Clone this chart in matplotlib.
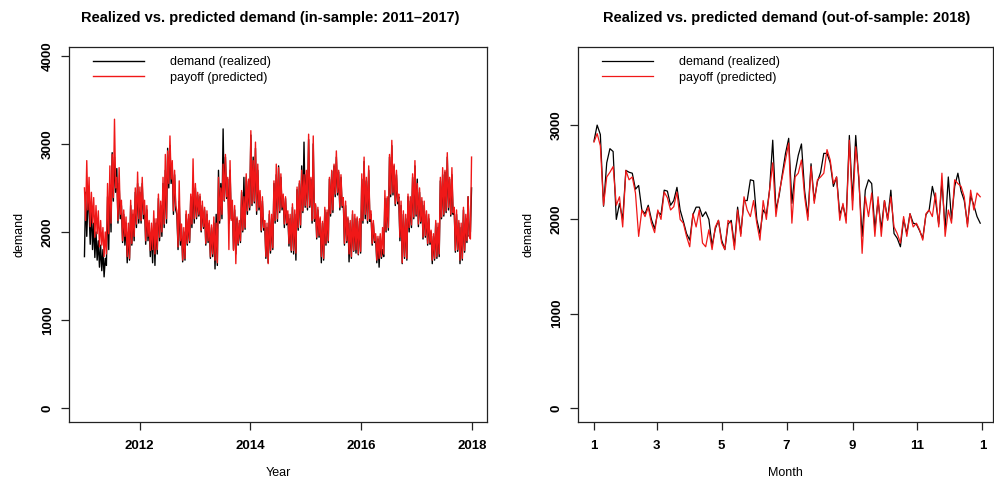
import numpy as np
import pandas as pd
import matplotlib
matplotlib.use('Agg')
import matplotlib.pyplot as plt

plt.rcParams['font.family'] = ['Liberation Sans', 'DejaVu Sans']

# in-sample: about 4 readings per month (realized = black, predicted = red)
pred_2011 = [2500, 2130, 2810, 2250, 2620, 2060, 2450, 2100, 2390, 1940, 2300, 1980,
             2240, 1830, 2130, 1850, 2050, 1720, 2000, 1750, 2550, 1980, 2750, 2100,
             2880, 2390, 3280, 2500, 2620, 2130, 2730, 2200, 2360, 1900, 2250, 1950,
             2170, 1720, 2100, 1700, 2360, 1870, 2250, 1950, 2500, 2090, 2680, 2150]
real_2011 = [1720, 2450, 1950, 2350, 2250, 1860, 2300, 1800, 2100, 1710, 2000, 1680,
             1900, 1600, 1850, 1560, 1800, 1490, 1700, 1620, 2400, 1800, 2500, 2000,
             2900, 2350, 2850, 2450, 2720, 2100, 2550, 2150, 2300, 1880, 2200, 1850,
             2100, 1650, 2000, 1680, 2300, 1850, 2200, 1900, 2450, 2050, 2550, 2100]
pred_2012 = [2510, 2130, 2620, 2200, 2360, 1900, 2300, 1950, 2130, 1790, 2100, 1800,
             2240, 1750, 2150, 1800, 2430, 1940, 2350, 2000, 2620, 2090, 2880, 2150,
             2920, 2550, 3090, 2600, 2810, 2240, 2700, 2300, 2240, 1830, 2580, 1900,
             2090, 1680, 2050, 1700, 2240, 1870, 2200, 1900, 2430, 2090, 2830, 2150]
real_2012 = [2450, 2100, 2550, 2150, 2300, 1860, 2250, 1900, 2100, 1720, 2000, 1650,
             2150, 1620, 2100, 1750, 2380, 1900, 2300, 1950, 2550, 2050, 2700, 2100,
             2950, 2500, 2980, 2550, 2750, 2200, 2650, 2250, 2200, 1800, 2350, 1850,
             2050, 1660, 2000, 1680, 2200, 1850, 2150, 1880, 2400, 2050, 2600, 2100]
pred_2013 = [2550, 2170, 2450, 2200, 2430, 2020, 2350, 2060, 2280, 1870, 2240, 1900,
             2130, 1720, 2080, 1750, 2170, 1680, 2100, 1650, 2620, 2130, 2500, 2200,
             2770, 2360, 2880, 2400, 2620, 1800, 2810, 2130, 2360, 1790, 2300, 1640,
             2170, 1870, 2130, 1900, 2470, 2020, 2400, 2050, 2660, 2240, 2600, 2280]
real_2013 = [2500, 2150, 2420, 2180, 2400, 2000, 2300, 2040, 2250, 1850, 2200, 1880,
             2100, 1700, 2050, 1720, 2100, 1580, 2200, 1620, 2700, 2100, 2550, 2150,
             3170, 2350, 2850, 2380, 2600, 2100, 2700, 2150, 2300, 1800, 2250, 1750,
             2150, 1850, 2100, 1880, 2450, 2000, 2620, 2030, 2620, 2200, 2580, 2250]
pred_2014 = [3150, 2320, 2810, 2350, 3020, 2240, 2770, 2280, 2470, 2020, 2400, 2050,
             2130, 1720, 2100, 1640, 2240, 1790, 2200, 1820, 2580, 2130, 2770, 2150,
             2730, 2240, 2660, 2280, 2430, 2090, 2400, 2100, 2240, 1870, 2200, 1790,
             2320, 1790, 2250, 1760, 2510, 2050, 2580, 2080, 2700, 2240, 2650, 2300]
real_2014 = [3100, 2300, 2850, 2330, 2950, 2200, 2700, 2250, 2420, 2000, 2350, 2020,
             2100, 1700, 2050, 1650, 2200, 1760, 2150, 1800, 2550, 2100, 2650, 2120,
             2750, 2220, 2620, 2250, 2400, 2050, 2380, 2080, 2200, 1840, 2150, 1770,
             2280, 1750, 2200, 1680, 2480, 2020, 2550, 2050, 2750, 2220, 3020, 2280]
pred_2015 = [2700, 2280, 3110, 2300, 2620, 2130, 3090, 2150, 2320, 1940, 2280, 1960,
             2170, 1720, 2120, 1700, 2280, 1870, 2250, 1900, 2620, 2210, 2700, 2250,
             2770, 2430, 2920, 2450, 2700, 2280, 2650, 2300, 2390, 1870, 2350, 1900,
             2170, 1750, 2130, 1720, 2240, 1790, 2200, 1800, 2170, 1750, 2150, 1780]
real_2015 = [2650, 2250, 3050, 2280, 2600, 2100, 3000, 2120, 2300, 1920, 2250, 1940,
             2150, 1650, 2100, 1680, 2250, 1850, 2220, 1880, 2600, 2180, 2690, 2220,
             2750, 2400, 2850, 2420, 2680, 2250, 2620, 2280, 2350, 1850, 2300, 1880,
             2150, 1660, 2100, 1700, 2200, 1780, 2150, 1760, 2150, 1740, 2120, 1760]
pred_2016 = [2660, 2130, 2850, 2200, 2620, 2130, 2750, 2150, 2240, 1870, 2130, 1900,
             1980, 1680, 1950, 1700, 1980, 1720, 2050, 1750, 2470, 2020, 2400, 2050,
             2880, 2430, 3040, 2450, 2770, 2320, 2700, 2350, 2430, 1940, 2350, 1650,
             2240, 1720, 2200, 1700, 2430, 2050, 2400, 2080, 2660, 2170, 2810, 2200]
real_2016 = [2600, 2100, 2800, 2150, 2580, 2100, 2700, 2120, 2200, 1850, 2100, 1880,
             1950, 1650, 1920, 1600, 1950, 1700, 1800, 1720, 2380, 2000, 2380, 2020,
             2850, 2400, 2980, 2420, 2750, 2300, 2650, 2320, 2400, 1900, 2300, 1640,
             2200, 1700, 2150, 1680, 2400, 2000, 2350, 2050, 2620, 2150, 2750, 2180]
pred_2017 = [2550, 2090, 2500, 2120, 2390, 1940, 2350, 1960, 2240, 1870, 2200, 1880,
             2020, 1680, 1980, 1700, 2130, 1720, 2100, 1750, 2620, 2170, 2730, 2200,
             2700, 2240, 2900, 2280, 2620, 2200, 2730, 2220, 2280, 1790, 2250, 1800,
             2130, 1680, 2100, 1700, 2280, 1790, 2200, 1900, 2400, 1950, 1920, 2850]
real_2017 = [2600, 2060, 2450, 2100, 2350, 1920, 2300, 1940, 2200, 1850, 2150, 1860,
             2000, 1640, 1950, 1680, 2100, 1700, 2050, 1720, 2580, 2150, 2650, 2180,
             2680, 2220, 2850, 2250, 2600, 2180, 2650, 2200, 2250, 1770, 2200, 1780,
             2100, 1640, 2050, 1680, 2250, 1770, 2150, 1880, 2400, 1950, 2000, 2500]

# out-of-sample 2018, one reading every 3 days
pred_2018 = [2820, 2910, 2780, 2150, 2450, 2500, 2560, 2150, 2240, 1920,
             2520, 2420, 2450, 2280, 1820, 2100, 2030, 2130, 1960, 1860,
             2100, 2000, 2290, 2230, 2100, 2135, 2290, 2000, 1960, 1820,
             1710, 2060, 1920, 2100, 1750, 1710, 1890, 1680, 1920, 1990,
             1750, 1680, 1990, 1960, 1680, 2100, 1820, 2240, 2100, 2030,
             2200, 1960, 1780, 2200, 2000, 2310, 2600, 2030, 2280, 2450,
             2630, 2810, 1960, 2450, 2490, 2630, 2240, 1990, 2560, 2170,
             2420, 2450, 2490, 2740, 2630, 2380, 2450, 1990, 2170, 1960,
             2840, 2100, 2770, 2450, 1640, 2240, 2030, 2280, 1820, 2240,
             1820, 2200, 1990, 2240, 1920, 1850, 1750, 2030, 1820, 2060,
             1920, 1960, 1890, 1780, 2060, 2100, 2030, 2280, 1920, 2490,
             1820, 2100, 1960, 2420, 2380, 2350, 2240, 1920, 2310, 2100,
             2280, 2240]
real_2018 = [2830, 3000, 2900, 2140, 2600, 2750, 2720, 2000, 2170, 2000,
             2520, 2500, 2490, 2320, 2360, 2100, 2060, 2150, 2000, 1900,
             2080, 2050, 2310, 2300, 2150, 2200, 2340, 2100, 1980, 1850,
             1780, 2050, 2130, 2130, 2030, 2080, 2000, 1720, 1900, 1990,
             1780, 1680, 1950, 1990, 1720, 2130, 1850, 2200, 2200, 2420,
             2410, 2000, 1850, 2100, 2050, 2310, 2840, 2100, 2250, 2480,
             2700, 2860, 2170, 2500, 2680, 2800, 2300, 2030, 2590, 2200,
             2400, 2500, 2700, 2700, 2600, 2350, 2450, 2050, 2150, 2000,
             2890, 2200, 2890, 2400, 1820, 2310, 2420, 2380, 1900, 2200,
             1900, 2200, 2000, 2310, 1850, 1800, 1710, 2000, 1850, 2060,
             1960, 1950, 1880, 1800, 2050, 2100, 2350, 2200, 1950, 2400,
             1900, 2450, 2000, 2350, 2490, 2300, 2200, 1950, 2250, 2150,
             2030, 1960]

year_ticks = ['2012', '2014', '2016', '2018']
month_ticks = ['2018-01-01', '2018-03-01', '2018-05-01', '2018-07-01',
               '2018-09-01', '2018-11-01', '2019-01-01']
month_labels = ['1', '3', '5', '7', '9', '11', '1']

pred_in = pred_2011 + pred_2012 + pred_2013 + pred_2014 + pred_2015 + pred_2016 + pred_2017
real_in = real_2011 + real_2012 + real_2013 + real_2014 + real_2015 + real_2016 + real_2017
dates_in = pd.date_range('2011-01-01', '2017-12-31', periods=len(pred_in))
dates_out = pd.date_range('2018-01-01', '2018-12-30', periods=len(pred_2018))

fig = plt.figure(figsize=(9.95, 4.8), dpi=100)
ax1 = fig.add_axes([69 / 995, 58 / 480, 418 / 995, 375 / 480])
ax2 = fig.add_axes([578 / 995, 58 / 480, 415 / 995, 375 / 480])

fs = 9
for ax, d, real, pred, lw in [(ax1, dates_in, real_in, pred_in, 1.0),
                              (ax2, dates_out, real_2018, pred_2018, 0.9)]:
    ax.plot(d, real, color='black', lw=lw, label='demand (realized)')
    ax.plot(d, pred, color='#f01818', lw=lw, label='payoff (predicted)')
    ax.legend(loc='upper left', bbox_to_anchor=(0.057, 0.975), frameon=False,
              borderaxespad=0, borderpad=0, handlelength=4.1, handletextpad=2.1,
              labelspacing=0.25, fontsize=fs)
    ax.set_ylabel('demand', fontsize=fs, labelpad=12)
    for s in ax.spines.values():
        s.set_linewidth(0.9)
        s.set_color('#222222')
    ax.tick_params(length=6, width=0.9, color='#222222', labelsize=9.5, pad=5)
    ax.tick_params(axis='x', pad=7)

start = pd.Timestamp('2011-01-01') - pd.Timedelta(days=102)
end = pd.Timestamp('2017-12-31') + pd.Timedelta(days=102)
ax1.set_xlim(start, end)
ax1.set_ylim(-158, 4100)
ax1.set_yticks([0, 1000, 2000, 3000, 4000])
ax1.set_xticks([pd.Timestamp(y + '-01-01') for y in year_ticks])
ax1.set_xticklabels(year_ticks, fontweight='bold')
ax1.set_xlabel('Year', fontsize=fs, labelpad=11)

ax2.set_xlim(pd.Timestamp('2018-01-01') - pd.Timedelta(days=15),
             pd.Timestamp('2018-01-01') + pd.Timedelta(days=375))
ax2.set_ylim(-148, 3828)
ax2.set_yticks([0, 1000, 2000, 3000])
ax2.set_xticks([pd.Timestamp(m) for m in month_ticks])
ax2.set_xticklabels(month_labels, fontweight='bold')
ax2.set_xlabel('Month', fontsize=fs, labelpad=11)

for ax in (ax1, ax2):
    for lab in ax.get_yticklabels():
        lab.set_rotation(90)
        lab.set_va('center')
        lab.set_fontweight('bold')

fig.text(270 / 995, 1 - 18 / 480,
         'Realized vs. predicted demand (in-sample: 2011\u20132017)',
         ha='center', va='center', fontsize=10.5, fontweight='bold')
fig.text(787 / 995, 1 - 18 / 480,
         'Realized vs. predicted demand (out-of-sample: 2018)',
         ha='center', va='center', fontsize=10.5, fontweight='bold')

plt.savefig('out.png', dpi=100)
